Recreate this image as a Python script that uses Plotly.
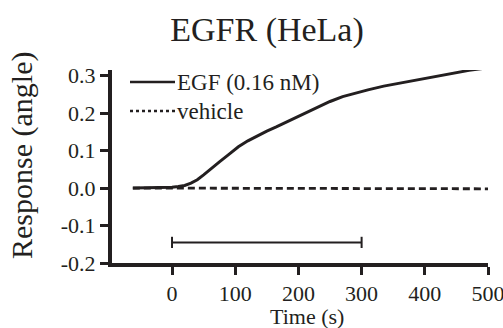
import plotly.graph_objects as go

# ---- data ----
egf_time = [-62, -40, -20, 0, 10, 20, 30, 40, 50, 60, 75, 90, 105, 120, 135, 150, 165,
            180, 200, 215, 230, 250, 270, 290, 310, 335, 360, 390, 420, 445, 470, 500]
egf_resp = [0.0, 0.0, 0.001, 0.002, 0.004, 0.007, 0.013, 0.022, 0.035, 0.05, 0.07, 0.09,
            0.11, 0.126, 0.14, 0.152, 0.163, 0.175, 0.19, 0.202, 0.216, 0.231, 0.244,
            0.254, 0.262, 0.272, 0.28, 0.29, 0.30, 0.307, 0.314, 0.321]
vehicle_time = [-62, 500]
vehicle_resp = [0.0, -0.002]
stim_time = [0, 300]
stim_level = [-0.145, -0.145]

x_ticks = [0, 100, 200, 300, 400, 500]
y_ticks = [-0.2, -0.1, 0.0, 0.1, 0.2, 0.3]
y_tick_labels = ["-0.2", "-0.1", "0.0", "0.1", "0.2", "0.3"]
legend_names = ["EGF (0.16 nM)", "vehicle"]

INK = "#231f20"
FONT = "Liberation Serif, Times New Roman, serif"
W, H = 503, 328
L, T = 112, 70
R, B = W - 488, H - 263

fig = go.Figure()
fig.add_trace(go.Scatter(x=vehicle_time, y=vehicle_resp, mode="lines",
                         line=dict(color=INK, width=2.8, dash="7px,4px"),
                         showlegend=False, cliponaxis=False))
fig.add_trace(go.Scatter(x=egf_time, y=egf_resp, mode="lines",
                         line=dict(color=INK, width=3), showlegend=False,
                         cliponaxis=False))
fig.add_trace(go.Scatter(x=stim_time, y=stim_level, mode="lines+markers",
                         line=dict(color=INK, width=2),
                         marker=dict(symbol="line-ns", size=8,
                                     line=dict(color=INK, width=2)),
                         showlegend=False, cliponaxis=False))

pw, ph = W - L - R, H - T - B
def px(xp):  # pixel -> paper
    return (xp - L) / pw
def py(yp):
    return 1 - (yp - T) / ph

# manual legend
legend_rows = [(82, "solid"), (111, "dot")]
for (yp, dash), name in zip(legend_rows, legend_names):
    fig.add_shape(type="line", xref="paper", yref="paper",
                  x0=px(130), x1=px(175), y0=py(yp), y1=py(yp),
                  line=dict(color=INK, width=2.5, dash=dash))
    fig.add_annotation(text=name, xref="paper", yref="paper", x=px(175), y=py(yp),
                       xanchor="left", yanchor="middle", showarrow=False,
                       font=dict(size=23, family=FONT, color=INK))

# axis titles
fig.add_annotation(text="Response (angle)", xref="paper", yref="paper",
                   x=px(22), y=py(156), xanchor="center", yanchor="middle",
                   textangle=-90, showarrow=False,
                   font=dict(size=30, family=FONT, color=INK))
fig.add_annotation(text="Time (s)", xref="paper", yref="paper",
                   x=px(307), y=py(316), xanchor="center", yanchor="middle",
                   showarrow=False, font=dict(size=22, family=FONT, color=INK))

fig.update_layout(
    width=W, height=H,
    margin=dict(l=L, r=R, t=T, b=B),
    paper_bgcolor="white", plot_bgcolor="white",
    showlegend=False,
    font=dict(family=FONT, color=INK, size=21),
    title=dict(text="EGFR (HeLa)", x=267 / W, xanchor="center",
               y=1 - 29 / H, yanchor="middle",
               font=dict(size=34, family=FONT, color=INK)),
)
fig.update_xaxes(range=[-95, 500], showline=True, linewidth=4, linecolor=INK,
                 ticks="outside", ticklen=8, tickwidth=3, tickcolor=INK,
                 tickvals=x_ticks, showgrid=False, zeroline=False, automargin=False,
                 ticklabeloverflow="allow",
                 tickfont=dict(size=22, family=FONT, color=INK))
fig.update_yaxes(range=[-0.2, 0.315], showline=True, linewidth=4, linecolor=INK,
                 ticks="outside", ticklen=8, tickwidth=3, tickcolor=INK,
                 tickvals=y_ticks, ticktext=y_tick_labels, automargin=False,
                 ticklabeloverflow="allow",
                 showgrid=False, zeroline=False,
                 tickfont=dict(size=22, family=FONT, color=INK))

fig.write_html("out.html", config={"displayModeBar": False},
               post_script="document.body.style.margin='0';")
